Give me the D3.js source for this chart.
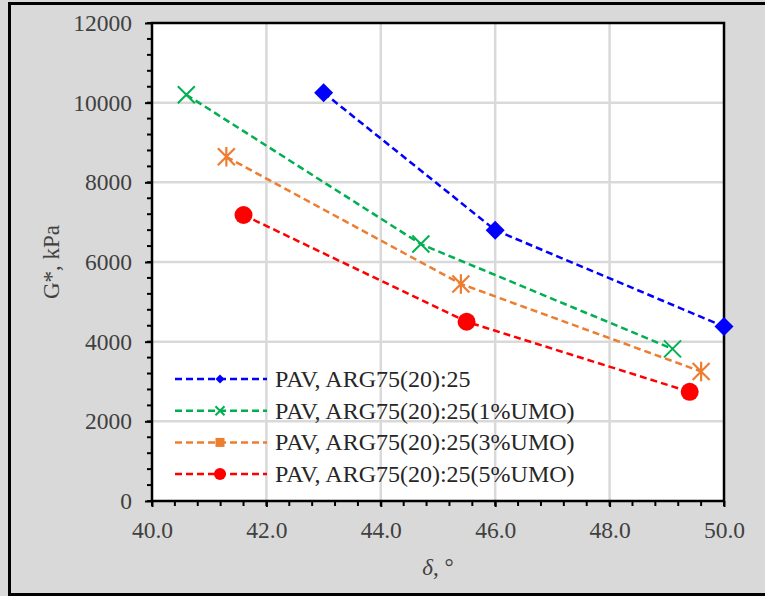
<!DOCTYPE html>
<html>
<head>
<meta charset="utf-8">
<script src="https://cdn.jsdelivr.net/npm/d3@7"></script>
<style>
  body { margin: 0; background: #fff; }
  svg { display: block; }
  text { font-family: "Liberation Serif", "Times New Roman", serif; }
</style>
</head>
<body>
<svg id="chart" width="765" height="596"></svg>
<script>
// data
const seriesNames = [
  "PAV, ARG75(20):25",
  "PAV, ARG75(20):25(1%UMO)",
  "PAV, ARG75(20):25(3%UMO)",
  "PAV, ARG75(20):25(5%UMO)"
];
const seriesColors = ["#0000ff", "#00b050", "#ed7d31", "#ff0000"];
const seriesMarkers = ["diamond", "x", "asterisk", "circle"];
const deltaBase = [43.0, 46.0, 50.0];
const gBase = [10250, 6800, 4380];
const delta1 = [40.6, 44.7, 49.1];
const g1 = [10200, 6450, 3820];
const delta3 = [41.3, 45.4, 49.6];
const g3 = [8640, 5450, 3250];
const delta5 = [41.6, 45.5, 49.4];
const g5 = [7180, 4500, 2740];
const xTicks = [40, 42, 44, 46, 48, 50];
const yTicks = [0, 2000, 4000, 6000, 8000, 10000, 12000];

const seriesX = [deltaBase, delta1, delta3, delta5];
const seriesY = [gBase, g1, g3, g5];

const svg = d3.select("#chart");
const W = 765, H = 596;
const m = {left: 152, right: 41, top: 23, bottom: 95};

// outer frame
svg.append("rect").attr("width", W).attr("height", H).attr("fill", "#d9d9d9");
svg.append("rect").attr("x", 9.5).attr("y", 3.5).attr("width", W - 8).attr("height", H - 5)
  .attr("fill", "none").attr("stroke", "#000").attr("stroke-width", 3);

const x = d3.scaleLinear().domain([40, 50]).range([m.left, W - m.right]);
const y = d3.scaleLinear().domain([0, 12000]).range([H - m.bottom, m.top]);

svg.append("rect").attr("x", x(40)).attr("y", y(12000))
  .attr("width", x(50) - x(40)).attr("height", y(0) - y(12000)).attr("fill", "#fff");

// grid
const grid = svg.append("g").attr("stroke", "#d9d9d9").attr("stroke-width", 2.5);
grid.selectAll("line.gx").data(xTicks.slice(1, -1)).join("line")
  .attr("x1", d => x(d)).attr("x2", d => x(d)).attr("y1", y(0)).attr("y2", y(12000));
grid.selectAll("line.gy").data(yTicks.slice(1, -1)).join("line")
  .attr("x1", x(40)).attr("x2", x(50)).attr("y1", d => y(d)).attr("y2", d => y(d));

// minor ticks
const minorX = d3.range(40, 50.001, 0.4);
const minorY = d3.range(0, 12001, 400);
const ticks = svg.append("g").attr("stroke", "#000").attr("stroke-width", 2);
ticks.selectAll("line.mx").data(minorX).join("line")
  .attr("x1", d => x(d)).attr("x2", d => x(d)).attr("y1", y(0)).attr("y2", y(0) + 5);
ticks.selectAll("line.my").data(minorY).join("line")
  .attr("y1", d => y(d)).attr("y2", d => y(d)).attr("x1", x(40) - 5).attr("x2", x(40));

// axes
const xAxis = svg.append("g").attr("transform", `translate(0,${y(0)})`)
  .call(d3.axisBottom(x).tickValues(xTicks).tickFormat(d3.format(".1f")).tickSize(6).tickPadding(10));
const yAxis = svg.append("g").attr("transform", `translate(${x(40)},0)`)
  .call(d3.axisLeft(y).tickValues(yTicks).tickFormat(d3.format("d")).tickSize(7).tickPadding(13));
[xAxis, yAxis].forEach(a => {
  a.select(".domain").remove();
  a.attr("font-family", "Liberation Serif, serif");
  a.selectAll(".tick line").attr("stroke", "#000").attr("stroke-width", 2);
  a.selectAll(".tick text").attr("fill", "#404040").attr("font-size", 23.5);
});
xAxis.selectAll(".tick text").attr("dy", null).attr("y", 37);

// plot border
svg.append("rect").attr("x", x(40)).attr("y", y(12000))
  .attr("width", x(50) - x(40)).attr("height", y(0) - y(12000))
  .attr("fill", "none").attr("stroke", "#000").attr("stroke-width", 2.5);

// axis titles
svg.append("text").attr("transform", `translate(59,${(y(0) + y(12000)) / 2}) rotate(-90)`)
  .attr("text-anchor", "middle").attr("font-size", 23).attr("fill", "#404040").text("G*, kPa");
const xt = svg.append("text").attr("x", (x(40) + x(50)) / 2).attr("y", 575)
  .attr("text-anchor", "middle").attr("font-size", 23).attr("fill", "#404040");
xt.append("tspan").attr("font-style", "italic").text("δ");
xt.append("tspan").text(", °");

// markers
function drawMarker(g, type, color, s) {
  if (type === "diamond") {
    g.append("path").attr("d", `M0,${-s}L${s},0L0,${s}L${-s},0Z`).attr("fill", color);
  } else if (type === "x") {
    g.append("path").attr("d", `M${-s},${-s}L${s},${s}M${-s},${s}L${s},${-s}`)
      .attr("stroke", color).attr("stroke-width", 2).attr("fill", "none");
  } else if (type === "asterisk") {
    g.append("path").attr("d", `M${-s},${-s}L${s},${s}M${-s},${s}L${s},${-s}M0,${-s * 1.15}L0,${s * 1.15}`)
      .attr("stroke", color).attr("stroke-width", 2.2).attr("fill", "none");
  } else {
    g.append("circle").attr("r", s).attr("fill", color);
  }
}
const markerSize = [9.5, 8.5, 8.5, 9];

const line = d3.line().x(d => x(d[0])).y(d => y(d[1]));
seriesNames.forEach((name, i) => {
  const pts = seriesX[i].map((v, j) => [v, seriesY[i][j]]);
  svg.append("path").datum(pts).attr("d", line).attr("fill", "none")
    .attr("stroke", seriesColors[i]).attr("stroke-width", 2.5).attr("stroke-dasharray", "7,4");
  pts.forEach(p => {
    const g = svg.append("g").attr("transform", `translate(${x(p[0])},${y(p[1])})`);
    drawMarker(g, seriesMarkers[i], seriesColors[i], markerSize[i]);
  });
});

// legend
const legend = svg.append("g");
seriesNames.forEach((name, i) => {
  const ly = 379 + i * 31.7;
  const g = legend.append("g").attr("transform", `translate(0,${ly})`);
  g.append("line").attr("x1", 175).attr("x2", 267).attr("y1", 0).attr("y2", 0)
    .attr("stroke", seriesColors[i]).attr("stroke-width", 2.5).attr("stroke-dasharray", "7,4");
  const mg = g.append("g").attr("transform", "translate(220,0)");
  if (seriesMarkers[i] === "asterisk") {
    mg.append("rect").attr("x", -4.5).attr("y", -4.5).attr("width", 9).attr("height", 9).attr("fill", seriesColors[i]);
  } else {
    drawMarker(mg, seriesMarkers[i], seriesColors[i], i === 3 ? 6 : 4.5);
  }
  g.append("text").attr("x", 275).attr("y", 8).attr("font-size", 24).attr("fill", "#262626").text(name);
});
</script>
</body>
</html>
